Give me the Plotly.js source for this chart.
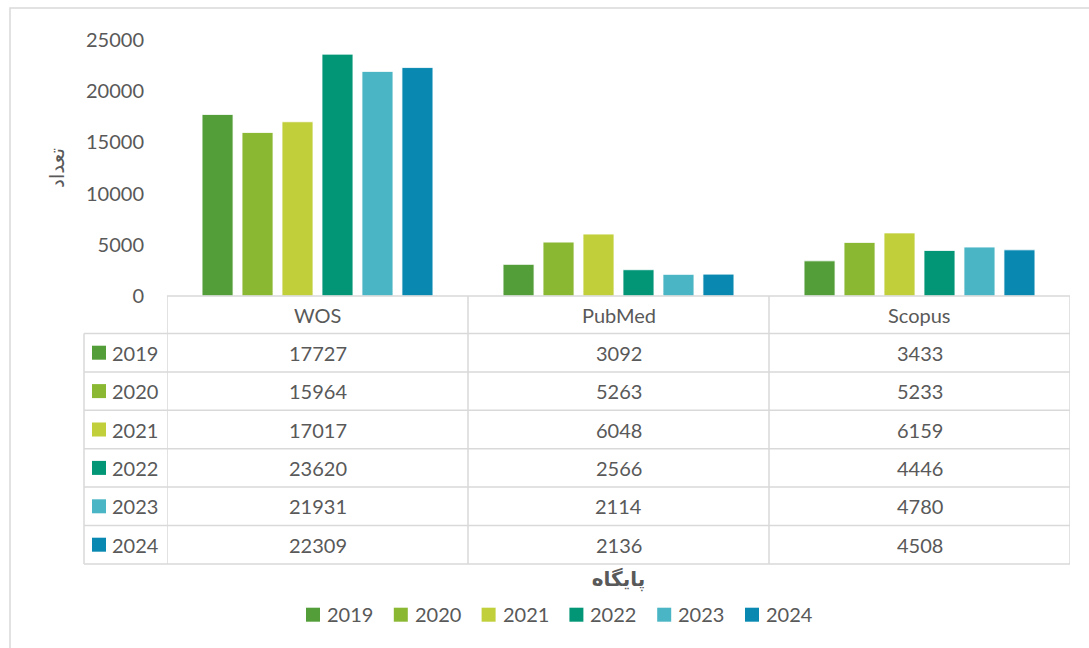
<!DOCTYPE html>
<html>
<head>
<meta charset="utf-8">
<script src="https://cdn.plot.ly/plotly-3.0.1.min.js"></script>
<style>html,body{margin:0;padding:0;background:#fff;}#chart{width:1089px;height:648px;}</style>
</head>
<body>
<div id="chart"></div>
<script>
// ---- data ----
const categories = ['WOS', 'PubMed', 'Scopus'];
const years = ['2019', '2020', '2021', '2022', '2023', '2024'];
const y2019 = [17727, 3092, 3433];
const y2020 = [15964, 5263, 5233];
const y2021 = [17017, 6048, 6159];
const y2022 = [23620, 2566, 4446];
const y2023 = [21931, 2114, 4780];
const y2024 = [22309, 2136, 4508];
const yTitle = 'تعداد';
const xTitle = 'پایگاه';
const yTicks = [0, 5000, 10000, 15000, 20000, 25000];

const series = [y2019, y2020, y2021, y2022, y2023, y2024];
const colors = ['#549E39', '#8AB833', '#C0CF3A', '#029676', '#4AB5C4', '#0989B1'];

// ---- layout geometry (pixels) ----
const W = 1089, H = 648;
const plotL = 167, plotR = 1070, plotT = 40, plotB = 296;
const plotW = plotR - plotL, plotH = plotB - plotT;
const px = p => (p - plotL) / plotW;      // pixel x -> paper
const py = p => (plotB - p) / plotH;      // pixel y -> paper
const headerH = 37.5, rowH = 38.4;
const legendColL = 84;
const textColor = '#595959';
const gridColor = '#D9D9D9';
const FONT = 'Lato, "DejaVu Sans", sans-serif';

const traces = years.map((yr, i) => ({
  type: 'bar',
  name: yr,
  x: categories,
  y: series[i],
  marker: {color: colors[i], line: {color: 'rgba(255,255,255,0.8)', width: 1}},
  hoverinfo: 'x+y+name',
  showlegend: false
}));

const shapes = [];
const annotations = [];
const tableBottom = plotB + headerH + rowH * years.length;

// outer chart border (top + left visible)
shapes.push({type: 'rect', xref: 'paper', yref: 'paper',
  x0: px(10), x1: px(W + 20), y0: py(8), y1: py(H + 20),
  line: {color: gridColor, width: 1.5}, fillcolor: 'rgba(0,0,0,0)', layer: 'below'});

// table horizontal lines
shapes.push({type: 'line', xref: 'x', yref: 'paper', x0: -0.5, x1: categories.length - 0.5,
  y0: 0, y1: 0, line: {color: gridColor, width: 1.5}});
for (let r = 0; r <= years.length; r++) {
  const yy = py(plotB + headerH + rowH * r);
  shapes.push({type: 'line', xref: 'paper', yref: 'paper', x0: px(legendColL), x1: 1,
    y0: yy, y1: yy, line: {color: gridColor, width: 1.5}});
}
// table vertical lines
for (let c = 0; c <= categories.length; c++) {
  shapes.push({type: 'line', xref: 'x', yref: 'paper', x0: c - 0.5, x1: c - 0.5,
    y0: 0, y1: py(tableBottom), line: {color: gridColor, width: 1.5}});
}
shapes.push({type: 'line', xref: 'paper', yref: 'paper', x0: px(legendColL), x1: px(legendColL),
  y0: py(plotB + headerH), y1: py(tableBottom), line: {color: gridColor, width: 1.5}});

// header labels
categories.forEach((c, i) => {
  annotations.push({xref: 'x', yref: 'paper', x: i, y: py(plotB + headerH / 2),
    text: c, showarrow: false, xanchor: 'center', yanchor: 'middle',
    font: {family: FONT, size: 20, color: textColor}});
});
// rows
years.forEach((yr, r) => {
  const cy = plotB + headerH + rowH * r + rowH / 2;
  shapes.push({type: 'rect', xref: 'paper', yref: 'paper',
    x0: px(92), x1: px(106), y0: py(cy - 7), y1: py(cy + 7),
    fillcolor: colors[r], line: {width: 0}});
  annotations.push({xref: 'paper', yref: 'paper', x: px(110), y: py(cy),
    text: yr, showarrow: false, xanchor: 'left', yanchor: 'middle',
    font: {family: FONT, size: 20, color: textColor}});
  series[r].forEach((v, i) => {
    annotations.push({xref: 'x', yref: 'paper', x: i, y: py(cy),
      text: String(v), showarrow: false, xanchor: 'center', yanchor: 'middle',
      font: {family: FONT, size: 20, color: textColor}});
  });
});

// bottom legend (Excel style: small square + label)
const legStart = 306, legPitch = 87.8, legCy = 614.7;
years.forEach((yr, i) => {
  const x0 = legStart + legPitch * i;
  shapes.push({type: 'rect', xref: 'paper', yref: 'paper',
    x0: px(x0), x1: px(x0 + 14), y0: py(legCy - 7), y1: py(legCy + 7),
    fillcolor: colors[i], line: {width: 0}});
  annotations.push({xref: 'paper', yref: 'paper', x: px(x0 + 19), y: py(legCy - 0.5),
    text: yr, showarrow: false, xanchor: 'left', yanchor: 'middle',
    font: {family: FONT, size: 20, color: textColor}});
});

const layout = {
  width: W, height: H,
  margin: {l: plotL, r: W - plotR, t: plotT, b: H - plotB, pad: 0},
  paper_bgcolor: '#fff', plot_bgcolor: '#fff',
  font: {family: FONT, color: textColor, size: 20},
  barmode: 'group', bargap: 0.203, bargroupgap: 0.225,
  showlegend: false,
  xaxis: {
    type: 'category', range: [-0.5, categories.length - 0.5],
    showticklabels: false, showgrid: false, zeroline: false, showline: false, ticks: '',
    fixedrange: true,
    title: {text: xTitle, standoff: 275, font: {family: FONT, size: 20, color: textColor, weight: 'bold'}}
  },
  yaxis: {
    range: [0, 25000], tickvals: yTicks, ticktext: yTicks.map(String),
    showgrid: false, zeroline: false, showline: false, ticks: '',
    ticklabelstandoff: 22,
    tickfont: {family: FONT, size: 20, color: textColor},
    title: {text: yTitle, standoff: 16, font: {family: FONT, size: 20, color: textColor}},
    fixedrange: true
  },
  shapes: shapes,
  annotations: annotations
};

Plotly.newPlot('chart', traces, layout, {displayModeBar: false, responsive: false});
</script>
</body>
</html>
